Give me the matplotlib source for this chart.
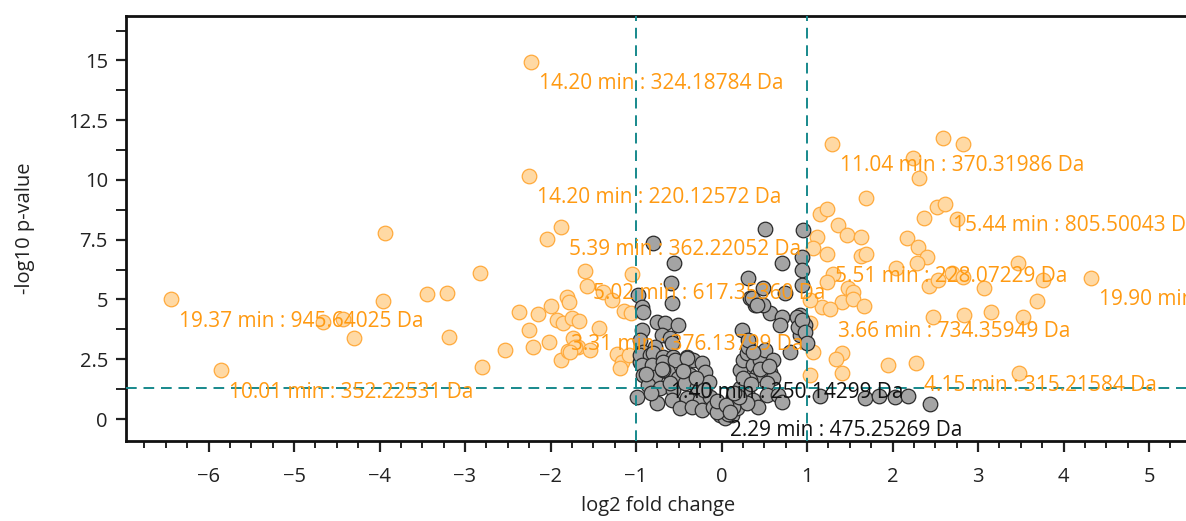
import matplotlib
matplotlib.use("Agg")
import matplotlib.pyplot as plt
from matplotlib.ticker import MultipleLocator, FixedLocator

plt.rcParams["font.family"] = ["Open Sans", "DejaVu Sans"]

# Significant features (|log2 FC| > 1 and p < 0.05)
sig_fc = [-6.44, -5.85, -3.94, -3.96, -3.45, -3.21, -2.82, -3.19, -4.30, -4.66, -4.43,
          -2.80, -2.53, -2.37, -2.25, -2.20, -2.15, -1.88, -2.04, -2.02, -2.00, -1.92,
          -1.85, -1.81, -1.78, -1.75, -1.67, -1.88, -1.80, -1.74, -1.68, -1.60, -1.57,
          -1.43, -1.54, -1.39, -1.28, -1.05, -1.14, -1.06, -1.22, -1.16, -1.19, -1.08,
          -1.71, -1.77, -2.23, -2.25,
          1.29, 2.59, 2.82, 2.24, 2.31, 1.69, 2.52, 2.61, 2.37, 2.75, 1.15, 1.23, 1.36,
          1.47, 1.63, 1.12, 1.07, 1.23, 1.63, 1.69, 2.17, 2.30, 2.40, 2.29, 2.04, 1.30,
          1.23, 1.48, 1.54, 1.41, 1.54, 1.67, 1.17, 1.27, 1.04, 2.43, 2.53, 2.70, 2.82,
          3.07, 2.47, 2.84, 3.15, 1.04, 1.07, 1.41, 1.34, 1.41, 1.04, 1.95, 2.27,
          3.47, 3.76, 4.32, 3.69, 3.53, 3.48]
sig_p = [5.02, 2.05, 7.78, 4.94, 5.23, 5.27, 6.11, 3.43, 3.39, 4.06, 4.18,
         2.18, 2.89, 4.48, 3.72, 3.01, 4.39, 8.03, 7.53, 3.22, 4.73, 4.14,
         4.02, 5.10, 4.90, 4.23, 4.10, 2.47, 2.85, 3.39, 3.01, 6.19, 5.56,
         3.81, 2.89, 5.31, 4.98, 6.07, 4.52, 4.44, 2.72, 2.38, 2.13, 2.68,
         3.01, 2.80, 14.94, 10.17,
         11.51, 11.76, 11.51, 10.92, 10.08, 9.25, 8.87, 9.00, 8.41, 8.37, 8.58, 8.79, 8.12,
         7.70, 7.62, 7.62, 7.15, 6.90, 6.82, 6.90, 7.57, 7.20, 6.78, 6.53, 6.32, 6.07,
         5.73, 5.48, 5.31, 4.90, 5.02, 4.73, 4.69, 4.60, 4.98, 5.56, 5.82, 6.11, 5.94,
         5.48, 4.27, 4.35, 4.48, 4.02, 2.80, 2.76, 2.51, 1.92, 1.84, 2.26, 2.34,
         6.53, 5.82, 5.90, 4.94, 4.27, 1.92]

# Features that fail one of the cut-offs
ns_fc = [-0.80, -0.56, -0.59, -0.58, -0.98, -0.93, -0.92, -0.93, -0.95, -0.92, -0.95,
         -0.75, -0.66, -0.51, -0.70, -0.60, -0.58, -0.78, -0.95, -0.84,
         -0.80, -0.68, -0.57, -0.40, -0.33, -0.23, -0.93, -0.81, -0.68, -0.54, -0.40,
         -0.92, -0.78, -0.63, -0.51, -0.37, -0.19, -0.86, -0.72, -0.57, -0.43, -0.29, -0.15,
         -0.75, -0.58, -0.40, -0.25, -0.13, -0.49, -0.35, -0.23, -0.10, -0.02, 0.04, 0.12, 0.18,
         -0.99, -0.68,
         0.22, 0.25, 0.30, 0.31, 0.37, 0.42, 0.45, 0.51, 0.57, 0.60, 0.53, 0.33, 0.22, 0.13,
         0.30, 0.37, 0.43, 0.53, 0.66, 0.30, 0.13, 0.71, 0.80, 0.60, 0.24, 0.31, 0.37,
         0.57, 0.71, 0.68, 0.92, 0.98, 0.92, 0.39, 0.49, 0.88, 0.89, 0.94, 0.98, 1.00,
         0.51, 0.95, 0.71, 0.94, 0.94, 0.94, 0.31, 0.39, 0.33, 0.36, 0.42, 0.49, 0.74,
         1.15, 1.68, 1.84, 2.03, 2.18, 2.44, 0.01, 0.08, -0.05,
         -0.88, -0.70, -0.45, -0.30, -0.20, -0.05, 0.05, 0.20, 0.25, 0.15, -0.60, -0.82,
         0.45, 0.35, 0.55, 0.10]
ns_p = [7.36, 6.53, 5.69, 4.85, 5.19, 4.69, 4.48, 3.72, 3.31, 2.80, 2.38,
        4.06, 4.02, 3.93, 3.51, 3.39, 3.18, 3.01, 2.68, 2.68,
        2.76, 2.59, 2.59, 2.59, 2.47, 2.34, 2.26, 2.26, 2.38, 2.47, 2.55,
        1.84, 1.76, 1.97, 1.72, 1.84, 1.97, 1.42, 1.30, 1.21, 1.51, 1.34, 1.55,
        0.67, 0.79, 0.88, 0.79, 0.92, 0.46, 0.50, 0.38, 0.50, 0.17, 0.04, 0.17, 0.46,
        0.92, 2.05,
        2.05, 2.47, 2.76, 3.01, 2.26, 1.84, 2.47, 2.89, 1.97, 1.72, 1.51, 1.63, 1.30, 0.92,
        1.09, 0.79, 0.50, 1.00, 1.00, 0.67, 0.50, 0.71, 2.80, 2.47, 3.72, 3.31, 2.80,
        4.44, 4.27, 3.93, 4.35, 3.93, 3.51, 4.77, 4.77, 4.27, 3.85, 4.14, 3.64, 3.18,
        7.95, 7.91, 6.53, 6.78, 6.23, 5.61, 5.90, 4.90, 5.06, 5.06, 4.77, 5.48, 5.27,
        0.96, 0.88, 0.96, 0.92, 0.96, 0.63, 0.42, 0.20, 0.30,
        1.90, 2.10, 2.00, 1.70, 1.20, 0.75, 0.60, 0.90, 1.70, 1.10, 1.50, 1.10,
        2.10, 1.45, 2.20, 0.30]

# Labelled features: (log2 FC, -log10 p, label, significant)
label_fc = [-2.23, -2.25, 1.29, 2.61, -1.88, -1.60, -1.85, -6.44, -5.85,
            -0.68, 0.01, 1.23, 1.27, 2.27, 4.32]
label_p = [14.94, 10.17, 11.51, 9.00, 8.03, 6.19, 4.02, 5.02, 2.05,
           2.05, 0.42, 6.90, 4.60, 2.34, 5.90]
label_text = ["14.20 min : 324.18784 Da", "14.20 min : 220.12572 Da",
              "11.04 min : 370.31986 Da", "15.44 min : 805.50043 Da",
              "5.39 min : 362.22052 Da", "5.02 min : 617.35360 Da",
              "3.31 min : 376.13799 Da", "19.37 min : 945.64025 Da",
              "10.01 min : 352.22531 Da", "1.40 min : 250.14299 Da",
              "2.29 min : 475.25269 Da", "5.51 min : 228.07229 Da",
              "3.66 min : 734.35949 Da", "4.15 min : 315.21584 Da",
              "19.90 min : 865.48712 Da"]
label_sig = [True, True, True, True, True, True, True, True, True,
             False, False, True, True, True, True]

FC_CUT = 1.0
P_CUT = 1.3

ORANGE_TEXT = "#ff9a12"
TEAL = "#17898c"

fig = plt.figure(figsize=(11.86, 5.21), dpi=100)
ax = fig.add_axes([126 / 1186, 80 / 521, 1065 / 1186, 425 / 521])

ax.scatter(sig_fc, sig_p, s=110, facecolor="#ffd9a4", edgecolor="#ffaa3c",
           linewidth=0.9, zorder=2)
ax.scatter(ns_fc, ns_p, s=110, facecolor="#a4a4a4", edgecolor="#2a2a2a",
           linewidth=0.9, zorder=3)

# cut-off lines
dash = (0, (5.5, 3.5))
ax.axvline(-FC_CUT, color=TEAL, lw=1.4, linestyle=dash, zorder=4)
ax.axvline(FC_CUT, color=TEAL, lw=1.4, linestyle=dash, zorder=4)
ax.axhline(P_CUT, color=TEAL, lw=1.4, linestyle=dash, zorder=4)

for fc, p, txt, sig in zip(label_fc, label_p, label_text, label_sig):
    ax.annotate(txt, (fc, p), xytext=(8, -22), textcoords="offset pixels",
                ha="left", va="center", fontsize=15,
                color=ORANGE_TEXT if sig else "#111111",
                annotation_clip=False, zorder=5)

ax.set_xlim(-6.965, 5.491)
ax.set_ylim(-0.92, 16.86)

ax.xaxis.set_major_locator(MultipleLocator(1))
ax.xaxis.set_minor_locator(MultipleLocator(0.25))
ax.yaxis.set_major_locator(FixedLocator([0, 2.5, 5, 7.5, 10, 12.5, 15]))
ax.yaxis.set_minor_locator(FixedLocator([1.25, 3.75, 6.25, 8.75, 11.25, 13.75, 16.25]))
ax.set_yticklabels(["0", "2.5", "5", "7.5", "10", "12.5", "15"])

ax.tick_params(axis="x", which="major", length=8, width=1.6, pad=11,
               labelsize=14.5, colors="#222222")
ax.tick_params(axis="x", which="minor", length=5, width=1.4, colors="#222222")
ax.tick_params(axis="y", which="major", length=7, width=1.6, pad=6,
               labelsize=14.5, colors="#222222")
ax.tick_params(axis="y", which="minor", length=7, width=1.4, colors="#222222")

for side in ["left", "bottom", "top"]:
    ax.spines[side].set_linewidth(2)
    ax.spines[side].set_color("#111111")
ax.spines["right"].set_visible(False)

ax.set_xlabel("log2 fold change", fontsize=14.5, color="#222222", labelpad=6)
ax.set_ylabel("-log10 p-value", fontsize=14.5, color="#222222", labelpad=24)

fig.savefig("out.png", dpi=100)
